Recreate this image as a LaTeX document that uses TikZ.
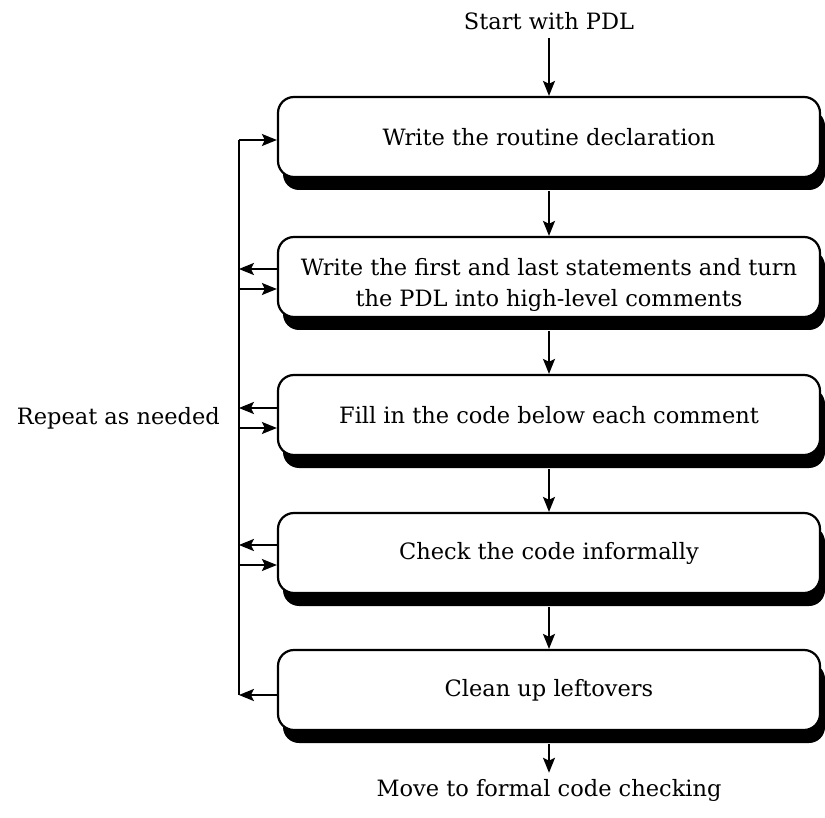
\documentclass[tikz,border=0pt]{standalone}
\usepackage{fontspec}
\setmainfont{DejaVu Serif}
\usetikzlibrary{arrows.meta,calc,shadows}
\begin{document}
\begin{tikzpicture}[x=1pt,y=-1pt,
  txt/.style={font=\fontsize{22.5}{31}\selectfont},
  stepbox/.style={txt, draw, line width=2.2pt, rounded corners=16pt,
    minimum width=542pt, minimum height=80pt, fill=white, align=center, inner sep=0pt,
    drop shadow={shadow xshift=5pt, shadow yshift=-13pt, fill=black, opacity=1}},
  lbl/.style={txt, inner sep=0pt},
  arr/.style={-{Stealth[length=15pt,width=12pt,inset=3pt]}, line width=2pt},
  fbline/.style={line width=2pt}
]
\useasboundingbox (0,0) rectangle (825,818);
\node[lbl] (start) at (549,21) {Start with PDL};
\node[stepbox] (b1) at (549,137) {Write the routine declaration};
\node[stepbox] (b2) at (549,277) {\raisebox{-13pt}[0pt][0pt]{\parbox{520pt}{\centering Write the first and last statements and turn\\the PDL into high-level comments}}};
\node[stepbox] (b3) at (549,415) {Fill in the code below each comment};
\node[stepbox] (b4) at (549,553) {Check the code informally};
\node[stepbox] (b5) at (549,690) {Clean up leftovers};
\node[lbl] (finish) at (549,790) {Move to formal code checking};
\node[lbl, anchor=east] (rep) at (220,418) {Repeat as needed};

% main flow
\draw[arr] ([yshift=-8pt]start.south) -- (b1.north);
\draw[arr] ([yshift=-13pt]b1.south) -- (b2.north);
\draw[arr] ([yshift=-13pt]b2.south) -- (b3.north);
\draw[arr] ([yshift=-13pt]b3.south) -- (b4.north);
\draw[arr] ([yshift=-13pt]b4.south) -- (b5.north);
\draw[arr] ([yshift=-13pt]b5.south) -- ([yshift=6pt]finish.north);

% feedback loop
\coordinate (ftop) at ($([yshift=-3pt]b1.west)+(-38,0)$);
\coordinate (fbot) at ($([yshift=-5pt]b5.west)+(-38,0)$);
\draw[fbline] (ftop) -- (fbot);
\draw[arr] (ftop) -- ([yshift=-3pt]b1.west);
\draw[arr] ([yshift=8pt]b2.west) -- ([yshift=8pt]b2.west -| ftop);
\draw[arr] ([yshift=-12pt]b2.west -| ftop) -- ([yshift=-12pt]b2.west);
\draw[arr] ([yshift=7pt]b3.west) -- ([yshift=7pt]b3.west -| ftop);
\draw[arr] ([yshift=-13pt]b3.west -| ftop) -- ([yshift=-13pt]b3.west);
\draw[arr] ([yshift=8pt]b4.west) -- ([yshift=8pt]b4.west -| ftop);
\draw[arr] ([yshift=-12pt]b4.west -| ftop) -- ([yshift=-12pt]b4.west);
\draw[arr] ([yshift=-5pt]b5.west) -- (fbot);
\end{tikzpicture}
\end{document}
